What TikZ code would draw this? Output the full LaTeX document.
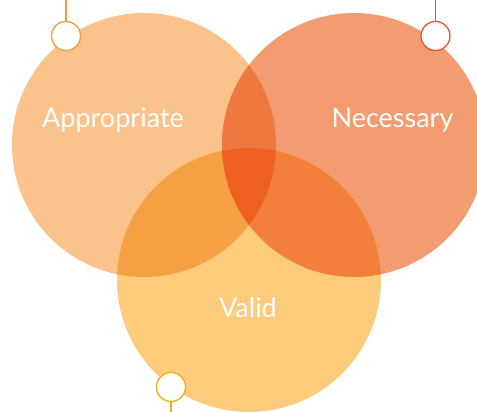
\documentclass[tikz,border=0pt]{standalone}
\usepackage{fontspec}
\setmainfont{Lato}
\definecolor{cA}{HTML}{F9C38B}
\definecolor{cN}{HTML}{F39C72}
\definecolor{cV}{HTML}{FDCB7C}
\definecolor{cAN}{HTML}{EF7840}
\definecolor{cAV}{HTML}{F7A043}
\definecolor{cNV}{HTML}{F27F3A}
\definecolor{cANV}{HTML}{EE6020}
\definecolor{lA}{HTML}{F39A3B}
\definecolor{lN}{HTML}{E8522A}
\definecolor{lV}{HTML}{F6AA1C}
\tikzset{
  marker/.style={circle,draw,fill=white,line width=1.3pt,minimum size=29pt,inner sep=0pt},
  stem/.style={line width=1.3pt},
  label/.style={text=white,font=\fontsize{27}{31}\selectfont,anchor=base}
}
\begin{document}
\begin{tikzpicture}[x=1pt,y=-1pt]
\useasboundingbox (0,0) rectangle (477,412);
\def\circA{(144,145) circle[radius=132]}
\def\circN{(354,145) circle[radius=132]}
\def\circV{(249,280) circle[radius=132]}
\begin{scope}
\clip (0,0) rectangle (477,412);
\fill[cA] \circA;
\fill[cN] \circN;
\fill[cV] \circV;
\begin{scope}\clip \circA; \fill[cAN] \circN;\end{scope}
\begin{scope}\clip \circA; \fill[cAV] \circV;\end{scope}
\begin{scope}\clip \circN; \fill[cNV] \circV;\end{scope}
\begin{scope}\clip \circA; \clip \circN; \fill[cANV] \circV;\end{scope}
\end{scope}
\node[label] (tA) at (113,128) {Appropriate};
\node[label] (tN) at (392.5,128) {Necessary};
\node[label] (tV) at (248,317) {Valid};
\coordinate (sA) at (66,0);
\coordinate (sN) at (435.5,0);
\coordinate (sV) at (171,412);
\node[marker,draw=lA] (mA) at (66,36) {};
\node[marker,draw=lN] (mN) at (435.5,36) {};
\node[marker,draw=lV] (mV) at (171,387) {};
\draw[stem,lA] (sA) -- (mA.north);
\draw[stem,lN] (sN) -- (mN.north);
\draw[stem,lV] (mV.south) -- (sV);
\end{tikzpicture}
\end{document}
